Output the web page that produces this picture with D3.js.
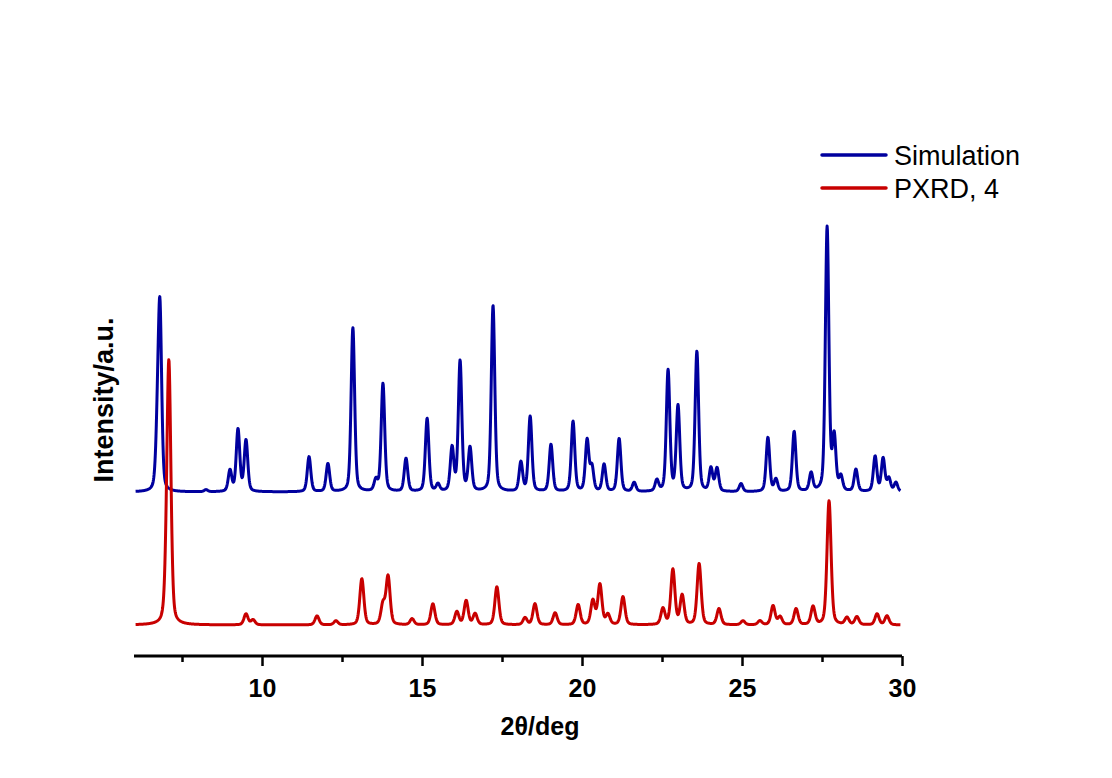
<!DOCTYPE html>
<html>
<head>
<meta charset="utf-8">
<script src="https://cdn.jsdelivr.net/npm/d3@7"></script>
<style>
  html, body { margin: 0; padding: 0; background: #ffffff; }
  svg { display: block; }
</style>
</head>
<body>
<svg id="chart" width="1112" height="778"></svg>
<script>
// ---- Data (peak position 2θ, peak height a.u.) ----
const xTicks = [10, 15, 20, 25, 30];
const xMinorTicks = [7.5, 12.5, 17.5, 22.5, 27.5];
const seriesNames = ["Simulation", "PXRD, 4"];

// Simulation pattern peaks: [2θ, height]
const simPeaks = [
  [6.81, 178], [6.73, 45], [8.25, 2], [9.0, 21], [9.25, 62], [9.5, 51],
  [11.47, 35], [12.06, 28], [12.84, 164], [13.56, 11], [13.78, 108],
  [14.5, 33], [15.16, 73], [15.5, 7], [15.94, 43], [16.19, 130], [16.5, 43],
  [17.22, 186], [18.09, 29], [18.38, 75], [19.03, 47], [19.72, 70],
  [20.16, 51], [20.31, 24], [20.69, 27], [21.16, 53], [21.63, 9],
  [22.34, 11], [22.69, 121], [23.0, 85], [23.59, 140], [24.03, 23],
  [24.22, 23], [24.97, 8], [25.81, 54], [26.06, 12], [26.63, 60],
  [27.16, 18], [27.66, 264], [27.88, 53], [28.09, 14], [28.56, 22],
  [29.16, 35], [29.41, 33], [29.59, 13], [29.81, 9]
];

// Experimental PXRD peaks: [2θ, height]
const pxrdPeaks = [
  [7.09, 260], [7.0, 14], [9.5, 11], [9.72, 5], [11.72, 9], [12.31, 4],
  [13.12, 46], [13.78, 20], [13.94, 48], [14.69, 6], [15.34, 21],
  [16.09, 13], [16.38, 24], [16.66, 11], [17.34, 38], [18.22, 7],
  [18.53, 21], [19.16, 12], [19.88, 20], [20.34, 24], [20.56, 40],
  [20.81, 10], [21.28, 28], [22.53, 16], [22.84, 55], [23.13, 29],
  [23.66, 61], [24.28, 16], [25.03, 4], [25.56, 4], [25.97, 19],
  [26.19, 8], [26.69, 16], [27.22, 18], [27.72, 124], [28.28, 7],
  [28.59, 8], [29.22, 11], [29.53, 9]
];

// ---- Layout ----
const plot = { left: 134, right: 902, axisY: 656 };
const simOffset = 133;       // vertical stacking offset of simulated trace
const simWidth = 0.13, pxrdWidth = 0.15; // peak FWHM in degrees
const lorentzFrac = 0.35;    // pseudo-Voigt mixing
const colors = ["#00009e", "#c80000"];
const fontFam = "Liberation Sans, Arial, sans-serif";

const svg = d3.select("#chart");

const x = d3.scaleLinear().domain([6, 30]).range([plot.left, plot.right]);
const y = d3.scaleLinear().domain([0, 400]).range([625, 225]);

// Profile built from the peak list (pseudo-Voigt peak shapes)
function profile(peaks, fwhm, offset) {
  const hw = fwhm / 2;
  const pts = [];
  for (let i = 0; i <= 2400; i++) {
    const t = 6.05 + i * (29.95 - 6.05) / 2400;
    let v = 0;
    for (const [p, h] of peaks) {
      const d = (t - p) / hw;
      const L = 1 / (1 + d * d);
      const G = Math.exp(-Math.LN2 * d * d);
      v += h * (lorentzFrac * L + (1 - lorentzFrac) * G);
    }
    pts.push([t, v + offset]);
  }
  return pts;
}

const line = d3.line().x(d => x(d[0])).y(d => y(d[1]));

svg.append("path")
  .attr("d", line(profile(simPeaks, simWidth, simOffset)))
  .attr("fill", "none").attr("stroke", colors[0])
  .attr("stroke-width", 3).attr("stroke-linejoin", "round");

svg.append("path")
  .attr("d", line(profile(pxrdPeaks, pxrdWidth, 0)))
  .attr("fill", "none").attr("stroke", colors[1])
  .attr("stroke-width", 3).attr("stroke-linejoin", "round");

// ---- X axis ----
const axisG = svg.append("g").attr("transform", `translate(0,${plot.axisY})`);
axisG.call(d3.axisBottom(x).tickValues(xTicks).tickSize(10).tickPadding(4).tickFormat(d3.format("d")));
axisG.select(".domain").attr("d", `M${plot.left},0H${plot.right}`).attr("stroke", "#000").attr("stroke-width", 3);
axisG.selectAll(".tick line").attr("stroke", "#000").attr("stroke-width", 2.5);
axisG.selectAll(".tick text")
  .attr("font-family", fontFam)
  .attr("font-weight", "bold").attr("font-size", 25).attr("fill", "#000")
  .attr("dy", null).attr("y", 41);

const minorG = svg.append("g").attr("transform", `translate(0,${plot.axisY})`);
minorG.call(d3.axisBottom(x).tickValues(xMinorTicks).tickSize(6).tickFormat(""));
minorG.select(".domain").remove();
minorG.selectAll(".tick line").attr("stroke", "#000").attr("stroke-width", 2.5);

// ---- Axis titles ----
svg.append("text")
  .attr("x", 540).attr("y", 735)
  .attr("text-anchor", "middle")
  .attr("font-family", fontFam)
  .attr("font-weight", "bold").attr("font-size", 25)
  .text("2θ/deg");

svg.append("text")
  .attr("transform", "translate(113,400) rotate(-90)")
  .attr("text-anchor", "middle")
  .attr("font-family", fontFam)
  .attr("font-weight", "bold").attr("font-size", 27)
  .text("Intensity/a.u.");

// ---- Legend ----
const legend = svg.append("g");
seriesNames.forEach((name, i) => {
  const yy = 155 + i * 33;
  legend.append("line")
    .attr("x1", 822).attr("x2", 886).attr("y1", yy).attr("y2", yy)
    .attr("stroke", colors[i]).attr("stroke-width", 3.5).attr("stroke-linecap", "round");
  legend.append("text")
    .attr("x", 894).attr("y", yy + 10)
    .attr("font-family", fontFam)
    .attr("font-size", 27).attr("fill", "#000")
    .text(name);
});
</script>
</body>
</html>
